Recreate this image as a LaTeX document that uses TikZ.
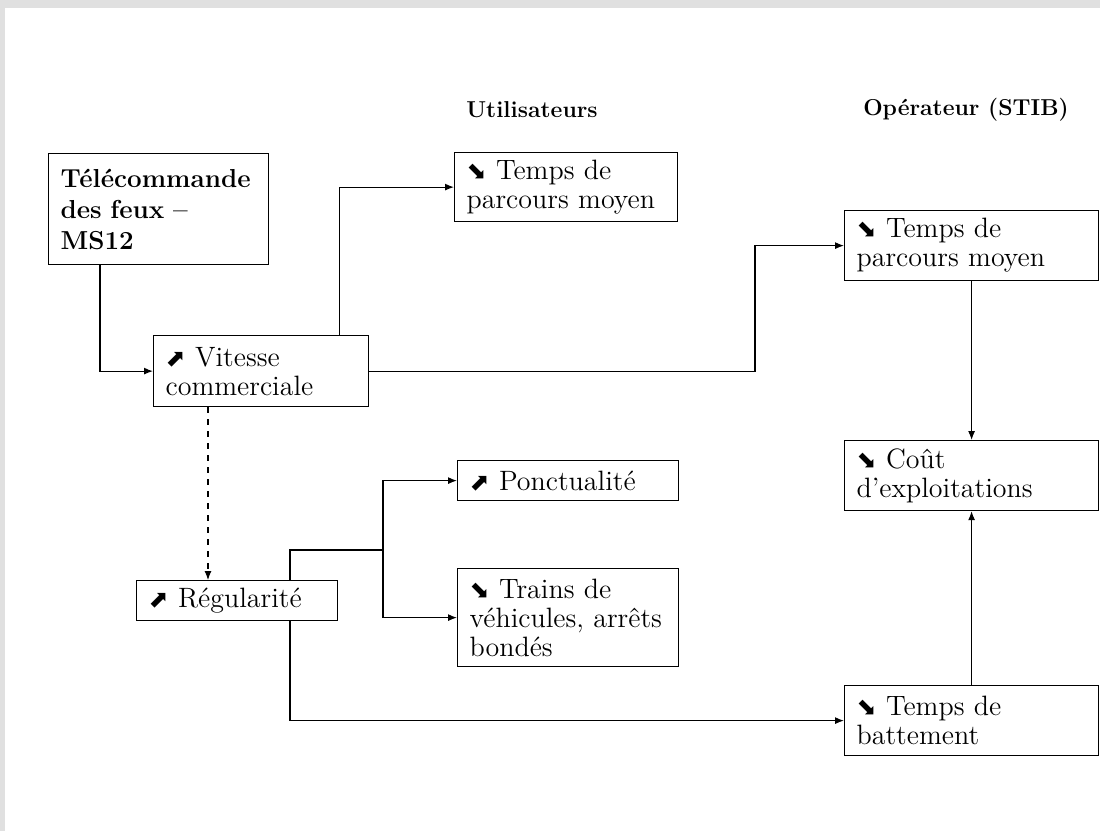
\documentclass[tikz,border=0pt]{standalone}
\usepackage{fontspec}
\usetikzlibrary{arrows.meta}
\newfontfamily\flechefont{DejaVu Sans}
\newcommand{\flechehaut}{{\flechefont\fontsize{12}{12}\selectfont ⬈}}
\newcommand{\flechebas}{{\flechefont\fontsize{12}{12}\selectfont ⬊}}
\definecolor{ombre}{gray}{0.88}
\tikzset{
  boite/.style={draw, line width=0.6pt, anchor=north west, align=left,
    inner xsep=6pt, inner ysep=0pt, font=\fontsize{14}{14.5}\selectfont},
  titre/.style={font=\bfseries\fontsize{11.5}{13}\selectfont},
  fleche/.style={line width=0.55pt, -{Latex[length=4.5pt,width=3.5pt]}},
  ligne/.style={line width=0.55pt}
}

\begin{document}
\begin{tikzpicture}[x=0.5pt, y=-0.5pt]
		\useasboundingbox (0,0) rectangle (1100,831);
		\fill[ombre] (0,0) rectangle (1100,831);
		\fill[white] (5,8) rectangle (1100,831);
		% titres des colonnes
		\node[titre] (utilisateurs) at (532,110) {Utilisateurs};
		\node[titre] (operateur) at (966,110) {Opérateur (STIB)};
		% boites
		\node[boite, text width=98pt, minimum height=55.5pt,
		  font=\bfseries\fontsize{13}{15.5}\selectfont] (tele) at (48,153)
		  {Télécommande\\des feux –\\MS12};
		\node[boite, text width=99.5pt, minimum height=34.5pt] (tempsu) at (454,152)
		  {\flechebas\ Temps de\\parcours moyen};
		\node[boite, text width=95.5pt, minimum height=35.5pt] (vitesse) at (153,335)
		  {\flechehaut\ Vitesse\\commerciale};
		\node[boite, text width=115pt, minimum height=35pt] (tempso) at (844,210)
		  {\flechebas\ Temps de\\parcours moyen};
		\node[boite, text width=115pt, minimum height=35pt] (cout) at (844,440)
		  {\flechebas\ Coût\\d’exploitations};
		\node[boite, text width=98.5pt, minimum height=20pt] (ponctualite) at (457,460)
		  {\flechehaut\ Ponctualité};
		\node[boite, text width=88.5pt, minimum height=20pt] (regularite) at (136,580)
		  {\flechehaut\ Régularité};
		\node[boite, text width=98.5pt, minimum height=49pt] (trains) at (457,568)
		  {\flechebas\ Trains de\\véhicules, arrêts\\bondés};
		\node[boite, text width=115pt, minimum height=35pt] (battement) at (844,685)
		  {\flechebas\ Temps de\\battement};
		% liaisons
		\coordinate (coude) at (755,0);
		\coordinate (fourche) at (383,550);
		\draw[fleche] ([xshift=26pt]tele.south west) |- (vitesse.west);
		\draw[fleche] ([xshift=-15pt]vitesse.north east) |- (tempsu.west);
		\draw[fleche] (vitesse.east) -- (vitesse.east -| coude) |- (tempso.west);
		\draw[fleche] (tempso.south) -- (cout.north);
		\draw[fleche, dashed] ([xshift=27.5pt]vitesse.south west) -- ([xshift=36pt]regularite.north west);
		\draw[ligne] ([xshift=77pt]regularite.north west) |- (fourche);
		\draw[fleche] (fourche) |- (ponctualite.west);
		\draw[fleche] (fourche) |- (trains.west);
		\draw[fleche] ([xshift=77pt]regularite.south west) |- (battement.west);
		\draw[fleche] (battement.north) -- (cout.south);
	\end{tikzpicture}
\end{document}
